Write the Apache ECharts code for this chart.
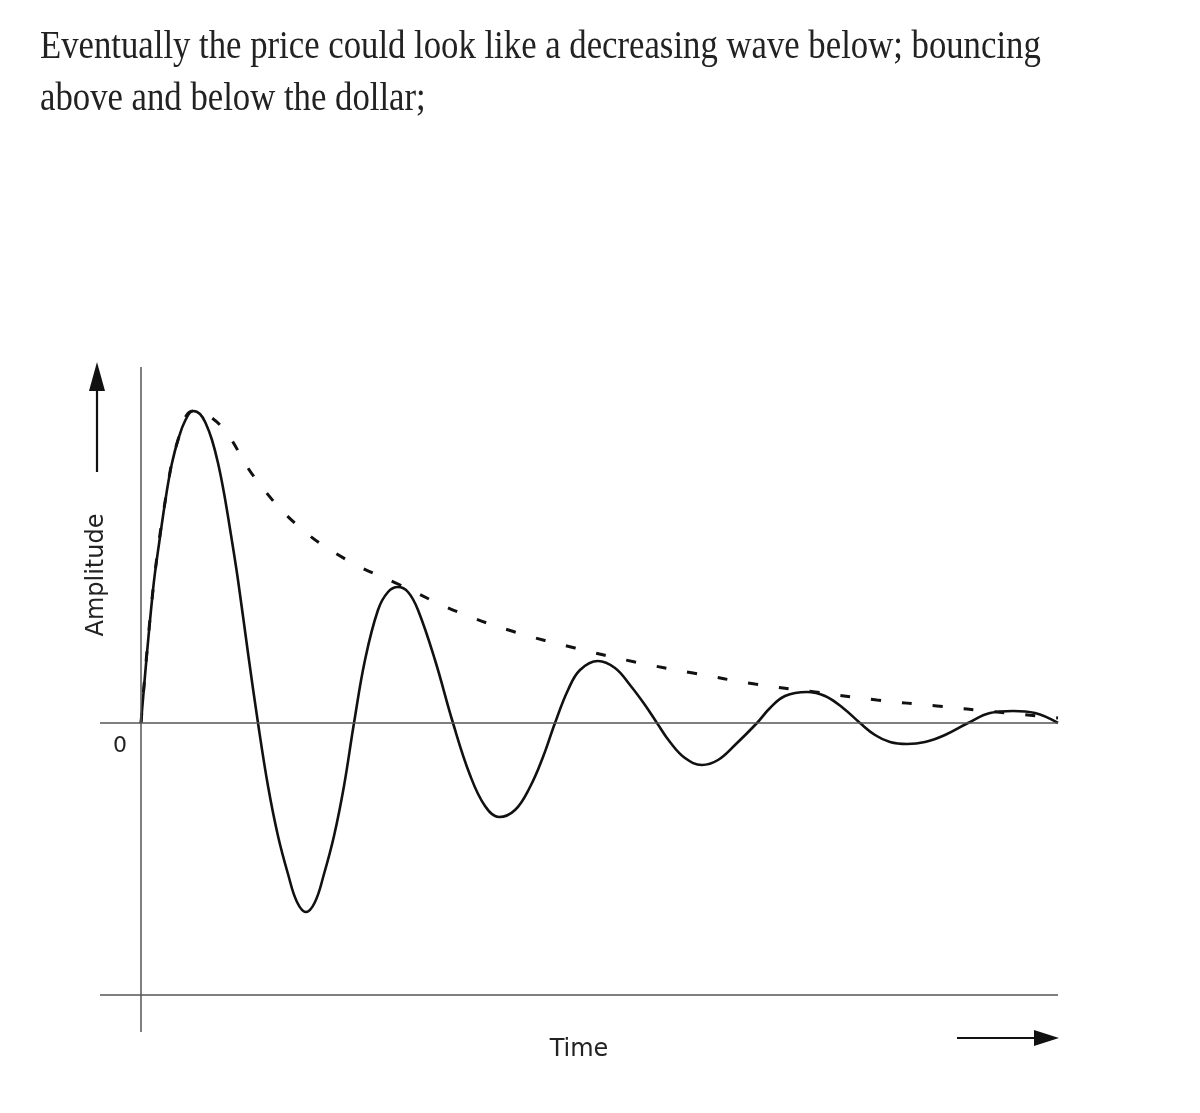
<!DOCTYPE html>
<html>
<head>
<meta charset="utf-8">
<script src="https://cdn.jsdelivr.net/npm/echarts@6/dist/echarts.min.js"></script>
<style>
  html, body { margin: 0; padding: 0; background: #fff; }
  #wave { width: 1200px; height: 1113px; }
</style>
</head>
<body>
<div id="wave"></div>
<script>
// damped wave (time, amplitude)
var timeVals = [0, 1.2, 1.9, 2.6, 3.1, 3.7, 4.4, 5.2, 5.9, 6.5, 7.1, 7.7, 8.3, 9.0, 9.7, 10.7, 11.7,
  12.7, 13.7, 14.7, 15.6, 16.5, 17.4, 18.3, 19.3, 20.3, 21.3, 22.4, 23.7, 24.7, 25.7, 26.7, 27.7, 29.4, 31.2,
  32.9, 34.4, 35.8, 37.4, 38.9, 40.2, 41.4, 42.7, 43.9, 45.7, 47.4, 48.9, 50.4, 51.6,
  52.9, 54.4, 56.1, 57.7, 59.4, 61.6, 62.9, 64.4, 66.6, 68.4, 70.2, 71.9,
  73.4, 74.9, 76.6, 78.4, 80.4, 82.7, 84.9, 87.2, 89.4, 91.7];
var ampVals = [0, 13.3, 18.6, 23.3, 26.0, 28.3, 30.2, 31.2, 30.9, 29.9, 28.3, 26.0, 23.0, 18.8, 14.3, 7.0, 0,
  -6.3, -11.3, -15.1, -17.9, -18.9, -17.9, -15.1, -11.3, -6.3, 0, 6.3, 11.3, 13.1, 13.6, 13.1, 11.3, 6.3, 0,
  -5.2, -8.3, -9.4, -8.7, -6.4, -3.4, 0, 3.3, 5.3, 6.2, 5.5, 3.8, 1.8, 0,
  -1.9, -3.5, -4.2, -3.7, -2.2, 0, 1.5, 2.7, 3.1, 2.7, 1.5, 0,
  -1.2, -1.9, -2.1, -1.9, -1.2, 0, 1.0, 1.2, 1.0, 0];

// dashed decay envelope
var envTime = [0, 1.2, 2.6, 3.7, 5.2, 7.9, 11.4, 15.6, 20.6, 25.7, 31.7, 37.4, 43.4, 49.4, 55.2, 61.4, 67.4, 73.6, 79.6, 85.6, 91.7];
var envAmp = [0, 13.3, 23.3, 28.3, 31.2, 29.8, 24.5, 19.8, 16.3, 13.9, 11.1, 9.1, 7.5, 6.1, 5.0, 3.9, 3.1, 2.3, 1.7, 1.1, 0.5];

// reference lines: zero line, baseline at the bottom, time origin
var zeroLevel = 0;
var floorLevel = -27.2;
var timeOrigin = 0;

var titleLines = [
  'Eventually the price could look like a decreasing wave below; bouncing',
  'above and below the dollar;'
];

var chart = echarts.init(document.getElementById('wave'));

var wave = timeVals.map(function (t, i) { return [t, ampVals[i]]; });
var env = envTime.map(function (t, i) { return [t, envAmp[i]]; });

var option = {
  backgroundColor: '#fff',
  animation: false,
  grid: { left: 100, right: 142, top: 367, bottom: 81 },
  xAxis: {
    type: 'value', min: -4.1, max: 91.7,
    axisLine: { show: false }, axisTick: { show: false },
    axisLabel: { show: false }, splitLine: { show: false }
  },
  yAxis: {
    type: 'value', min: -30.9, max: 35.6,
    axisLine: { show: false }, axisTick: { show: false },
    axisLabel: { show: false }, splitLine: { show: false }
  },
  series: [
    {
      type: 'line',
      data: wave,
      smooth: 0.4,
      symbol: 'none',
      lineStyle: { color: '#111', width: 2.6 },
      z: 3,
      markLine: {
        silent: true,
        symbol: 'none',
        label: { show: false },
        lineStyle: { color: '#555', width: 1.5, type: 'solid' },
        data: [
          { yAxis: zeroLevel },
          { yAxis: floorLevel },
          { xAxis: timeOrigin }
        ]
      }
    },
    {
      type: 'line',
      data: env,
      smooth: 0.4,
      symbol: 'none',
      lineStyle: { color: '#111', width: 3, type: [10, 21] },
      z: 2
    }
  ],
  graphic: [
    {
      type: 'text', x: 40, y: 47, scaleX: 0.868,
      style: { text: titleLines[0], font: '40px "Liberation Serif"', fill: '#222', verticalAlign: 'middle' }
    },
    {
      type: 'text', x: 40, y: 99, scaleX: 0.868,
      style: { text: titleLines[1], font: '40px "Liberation Serif"', fill: '#222', verticalAlign: 'middle' }
    },
    {
      type: 'text', x: 97, y: 575, rotation: Math.PI / 2,
      style: { text: 'Amplitude', font: '24px "DejaVu Sans"', fill: '#222', align: 'center', verticalAlign: 'middle' }
    },
    {
      type: 'text', x: 120, y: 746,
      style: { text: '0', font: '22px "DejaVu Sans"', fill: '#222', align: 'center', verticalAlign: 'middle' }
    },
    {
      type: 'text', x: 579, y: 1050,
      style: { text: 'Time', font: '24px "DejaVu Sans"', fill: '#222', align: 'center', verticalAlign: 'middle' }
    },
    // up arrow
    { type: 'line', shape: { x1: 97, y1: 472, x2: 97, y2: 385 }, style: { stroke: '#111', lineWidth: 2.2 } },
    { type: 'polygon', shape: { points: [[97, 362], [89, 391], [105, 391]] }, style: { fill: '#111' } },
    // right arrow
    { type: 'line', shape: { x1: 957, y1: 1038, x2: 1040, y2: 1038 }, style: { stroke: '#111', lineWidth: 2.2 } },
    { type: 'polygon', shape: { points: [[1059, 1038], [1034, 1030], [1034, 1046]] }, style: { fill: '#111' } }
  ]
};

chart.setOption(option);
window.addEventListener('resize', function () { chart.resize(); });
</script>
</body>
</html>
